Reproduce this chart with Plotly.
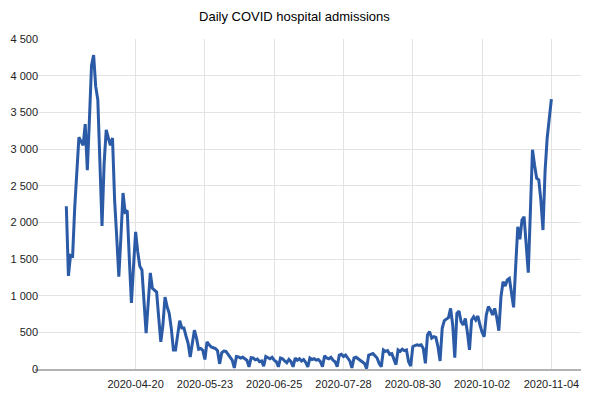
import pandas as pd
import plotly.graph_objects as go

title = "Daily COVID hospital admissions"
start_date = "2020-03-18"
admissions = [
    2220, 1270, 1550, 1540, 2200, 2700, 3160, 3100, 3050, 3340,
    2710, 3400, 4140, 4280, 3850, 3670, 2800, 1950, 2800, 3260,
    3150, 3050, 3150, 2300, 1800, 1260, 1800, 2400, 2140, 2160,
    1500, 900, 1400, 1870, 1600, 1400, 1350, 900, 490, 900,
    1310, 1100, 1070, 1050, 700, 370, 600, 980, 850, 760,
    550, 260, 260, 450, 660, 560, 560, 450, 350, 165,
    350, 530, 420, 270, 280, 255, 130, 370, 330, 300,
    290, 280, 250, 70, 220, 245, 240, 200, 170, 120,
    15, 170, 165, 150, 160, 140, 120, 30, 155, 150,
    125, 135, 100, 110, 40, 170, 150, 140, 160, 120,
    100, 30, 150, 140, 110, 85, 130, 100, 30, 150,
    120, 140, 110, 130, 90, 30, 150, 130, 140, 120,
    130, 100, 30, 180, 150, 140, 160, 120, 100, 30,
    190, 200, 170, 190, 150, 110, 15, 150, 160, 140,
    120, 90, 75, 5, 190, 200, 210, 180, 150, 75,
    30, 260, 240, 250, 200, 210, 123, 60, 260, 240,
    270, 250, 260, 100, 40, 305, 320, 330, 320, 330,
    280, 77, 464, 510, 420, 440, 430, 300, 109, 555,
    660, 677, 700, 827, 600, 155, 760, 790, 645, 600,
    690, 500, 260, 668, 713, 668, 722, 600, 500, 440,
    736, 850, 805, 736, 827, 700, 522, 986, 1190, 1132,
    1214, 1235, 1000, 841, 1400, 1940, 1768, 2032, 2077, 1700,
    1314, 2150, 2990, 2780, 2600, 2580, 2300, 1895, 2700, 3150,
    3450, 3680,
]
dates = pd.date_range(start_date, periods=len(admissions), freq="D")

x_tick_vals = ["2020-04-20", "2020-05-23", "2020-06-25", "2020-07-28",
               "2020-08-30", "2020-10-02", "2020-11-04"]
y_tick_vals = [0, 500, 1000, 1500, 2000, 2500, 3000, 3500, 4000, 4500]
y_tick_text = ["0", "500", "1 000", "1 500", "2 000", "2 500",
               "3 000", "3 500", "4 000", "4 500"]

font_family = "Arial, 'Liberation Sans', sans-serif"

fig = go.Figure()
fig.add_trace(go.Scatter(
    x=dates, y=admissions, mode="lines",
    line=dict(color="#2b5ba6", width=3),
    hoverinfo="skip", showlegend=False,
))

# page body has an 8px default margin; figure sized to fit the window
fig.update_layout(
    width=581, height=386,
    margin=dict(l=27, r=7, t=31, b=25, autoexpand=False),
    paper_bgcolor="white", plot_bgcolor="white",
    font=dict(family=font_family, size=11, color="#222"),
    title=dict(text=title, x=0.493, xanchor="center", y=0.979, yanchor="middle",
               font=dict(family=font_family, size=13, color="#000")),
    xaxis=dict(
        range=["2020-03-03 02:00", "2020-11-18 14:00"],
        tickvals=x_tick_vals, ticktext=x_tick_vals,
        showgrid=True, gridcolor="#e3e3e3", gridwidth=1,
        showline=True, linecolor="#b3b3b3", linewidth=2,
        zeroline=False, ticks="", tickfont=dict(size=11, color="#222"),
        ticklabelstandoff=4, automargin=False,
    ),
    yaxis=dict(
        range=[0, 4500],
        tickvals=y_tick_vals, ticktext=y_tick_text,
        showgrid=True, gridcolor="#e3e3e3", gridwidth=1,
        zeroline=False, showline=False, ticks="",
        tickfont=dict(size=11, color="#222"),
        ticklabelstandoff=-4, automargin=False,
    ),
)

fig.write_html("out.html")
